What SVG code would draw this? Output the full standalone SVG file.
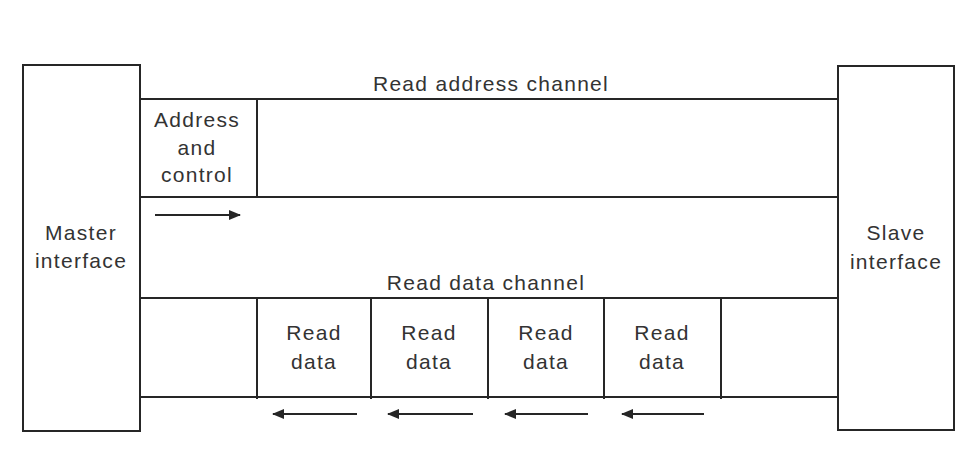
<svg xmlns="http://www.w3.org/2000/svg" width="979" height="454" viewBox="0 0 979 454">
<style>
.ln{stroke:#262626;stroke-width:2;fill:none}
.bx{stroke:#262626;stroke-width:2;fill:#fff}
text{font-family:"Liberation Sans",Arial,sans-serif;font-size:21px;letter-spacing:1.3px;fill:#333;text-anchor:middle}
.ar{stroke:#262626;stroke-width:2;fill:none}
</style>
<defs>
<marker id="ah" viewBox="0 0 12 10" refX="11" refY="5" markerWidth="12" markerHeight="10" markerUnits="userSpaceOnUse" orient="auto">
<path d="M0,0 L12,5 L0,10 Z" fill="#262626"/>
</marker>
</defs>
<rect width="979" height="454" fill="#fff"/>
<g id="master">
<rect class="bx" x="23" y="65" width="117" height="366"/>
<text x="81" y="240">Master</text>
<text x="81" y="268">interface</text>
</g>
<g id="slave">
<rect class="bx" x="838" y="66" width="116" height="364"/>
<text x="896" y="240">Slave</text>
<text x="896" y="269">interface</text>
</g>
<g id="read-address-channel">
<line class="ln" x1="140" y1="99" x2="838" y2="99"/>
<line class="ln" x1="140" y1="197" x2="838" y2="197"/>
<text x="491" y="91">Read address channel</text>
</g>
<g id="address-control">
<line class="ln" x1="257" y1="99" x2="257" y2="198"/>
<text x="197" y="127">Address</text>
<text x="197" y="155">and</text>
<text x="197" y="182">control</text>
</g>
<g id="read-data-channel">
<line class="ln" x1="140" y1="298" x2="838" y2="298"/>
<line class="ln" x1="140" y1="397" x2="838" y2="397"/>
<text x="486" y="290">Read data channel</text>
</g>
<g id="read-data-1">
<line class="ln" x1="257" y1="298" x2="257" y2="399"/>
<text x="314" y="340">Read</text>
<text x="314" y="369">data</text>
</g>
<g id="read-data-2">
<line class="ln" x1="371" y1="298" x2="371" y2="399"/>
<text x="429" y="340">Read</text>
<text x="429" y="369">data</text>
</g>
<g id="read-data-3">
<line class="ln" x1="488" y1="298" x2="488" y2="399"/>
<text x="546" y="340">Read</text>
<text x="546" y="369">data</text>
</g>
<g id="read-data-4">
<line class="ln" x1="604" y1="298" x2="604" y2="399"/>
<line class="ln" x1="721" y1="298" x2="721" y2="399"/>
<text x="662" y="340">Read</text>
<text x="662" y="369">data</text>
</g>
<g id="connectors">
<line class="ar" x1="155" y1="215" x2="240" y2="215" marker-end="url(#ah)"/>
<line class="ar" x1="357" y1="414" x2="273" y2="414" marker-end="url(#ah)"/>
<line class="ar" x1="473" y1="414" x2="388" y2="414" marker-end="url(#ah)"/>
<line class="ar" x1="588" y1="414" x2="505" y2="414" marker-end="url(#ah)"/>
<line class="ar" x1="704" y1="414" x2="622" y2="414" marker-end="url(#ah)"/>
</g>
</svg>
